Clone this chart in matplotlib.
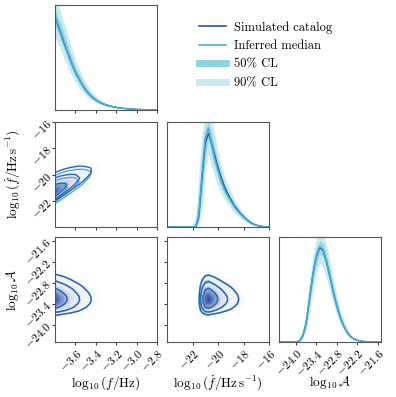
import numpy as np
import matplotlib
matplotlib.use('Agg')
import matplotlib.pyplot as plt
from matplotlib.colors import LinearSegmentedColormap
from matplotlib.lines import Line2D

plt.rcParams['font.family'] = 'serif'
plt.rcParams['font.serif'] = ['cmr10']
plt.rcParams['mathtext.fontset'] = 'cm'
plt.rcParams['axes.formatter.use_mathtext'] = True
plt.rcParams['axes.unicode_minus'] = True

# --- data (marginal densities, normalised to the panel height) ---
f_bins = [-3.80, -3.75, -3.70, -3.65, -3.60, -3.55, -3.50, -3.45, -3.40, -3.35, -3.30,
          -3.25, -3.20, -3.15, -3.10, -3.05, -3.00, -2.95, -2.90, -2.85, -2.80]
f_sim = [0.89, 0.75, 0.61, 0.48, 0.36, 0.27, 0.19, 0.135, 0.095, 0.068, 0.048,
         0.035, 0.025, 0.018, 0.013, 0.009, 0.006, 0.004, 0.002, 0.001, 0.0]
f_med = [0.90, 0.76, 0.62, 0.48, 0.36, 0.27, 0.19, 0.135, 0.095, 0.068, 0.048,
         0.035, 0.025, 0.018, 0.013, 0.009, 0.006, 0.004, 0.002, 0.001, 0.0]

fd_bins = [-24.0, -23.75, -23.5, -23.25, -23.0, -22.75, -22.5, -22.25, -22.0, -21.75,
           -21.5, -21.25, -21.0, -20.75, -20.5, -20.25, -20.0, -19.75, -19.5, -19.25,
           -19.0, -18.75, -18.5, -18.25, -18.0, -17.75, -17.5, -17.25, -17.0, -16.75,
           -16.5, -16.25, -16.0]
fd_sim = [0, 0, 0, 0, 0, 0, 0, 0, 0, 0,
          0.10, 0.47, 0.80, 0.89, 0.80, 0.68, 0.57, 0.47, 0.385, 0.32,
          0.265, 0.21, 0.17, 0.13, 0.10, 0.07, 0.047, 0.03, 0.018, 0.01,
          0.005, 0.002, 0.0]
fd_med = [0, 0, 0, 0, 0, 0, 0, 0, 0, 0,
          0.12, 0.52, 0.85, 0.94, 0.79, 0.65, 0.54, 0.44, 0.36, 0.30,
          0.25, 0.20, 0.16, 0.125, 0.095, 0.068, 0.045, 0.028, 0.017, 0.009,
          0.004, 0.002, 0.0]

A_bins = [-24.5, -24.4, -24.3, -24.2, -24.1, -24.0, -23.9, -23.8, -23.7, -23.6, -23.5,
          -23.4, -23.3, -23.2, -23.1, -23.0, -22.9, -22.8, -22.7, -22.6, -22.5,
          -22.4, -22.3, -22.2, -22.1, -22.0, -21.9, -21.8, -21.7, -21.6, -21.5]
A_sim = [0, 0, 0, 0, 0, 0, 0.01, 0.06, 0.18, 0.42, 0.65,
         0.82, 0.90, 0.87, 0.76, 0.62, 0.47, 0.34, 0.235, 0.155, 0.095,
         0.052, 0.03, 0.017, 0.009, 0.005, 0.002, 0, 0, 0, 0]
A_med = [0, 0, 0, 0, 0, 0, 0.01, 0.06, 0.18, 0.42, 0.66,
         0.83, 0.91, 0.88, 0.76, 0.62, 0.47, 0.34, 0.235, 0.155, 0.095,
         0.052, 0.03, 0.017, 0.009, 0.005, 0.002, 0, 0, 0, 0]

# fdot profile across the f-fdot ridge (offset from ridge, relative density)
ridge_off = [-1.0, -0.75, -0.5, -0.25, 0.0, 0.25, 0.5, 0.75, 1.0, 1.25, 1.5, 1.75, 2.0]
ridge_val = [0.0, 0.15, 0.6, 0.95, 1.0, 0.8, 0.6, 0.42, 0.28, 0.17, 0.09, 0.04, 0.0]
ridge_start = {'sim': -21.2, 'med': -21.4}   # ridge fdot at f = -3.8
ridge_slope = 4.5

limits = [(-3.8, -2.8), (-24.0, -16.0), (-24.5, -21.5)]
ticks = [[-3.6, -3.4, -3.2, -3.0, -2.8], [-22, -20, -18, -16],
         [-24.0, -23.4, -22.8, -22.2, -21.6]]
labels = [r'$\log_{10}(f/\mathrm{Hz})$', r'$\log_{10}(\dot{f}/\mathrm{Hz\,s^{-1}})$',
          r'$\log_{10}\mathcal{A}$']
jitter = [0.025, 0.2, 0.035]   # horizontal spread of the CL bands

c_sim = '#2f4e9f'
c_sim_ct = '#3561b3'
c_med = '#45afd2'
c_50 = '#8fd2e0'
c_90 = '#c8e9f0'
mass = [0.3, 0.6, 0.8]

bins = [np.array(f_bins), np.array(fd_bins), np.array(A_bins)]
sims = [np.array(f_sim), np.array(fd_sim), np.array(A_sim)]
meds = [np.array(f_med), np.array(fd_med), np.array(A_med)]

dens_cmap = LinearSegmentedColormap.from_list('dens', ['#ffffff', '#dfe5f3', '#2f4ea6'])


def envelope(x, y, dx, scale):
    shifted = [np.interp(x + d, x, y) for d in (-dx, 0.0, dx)]
    lo = np.min(shifted, axis=0) * (1 - scale)
    hi = np.max(shifted, axis=0) * (1 + scale)
    return lo, hi


def mass_levels(z, fracs):
    flat = np.sort(z.ravel())[::-1]
    cum = np.cumsum(flat)
    cum /= cum[-1]
    return sorted(set(flat[np.searchsorted(cum, q)] for q in fracs))


def density(i, j, which):
    # density for x = parameter j, y = parameter i
    src = sims if which == 'sim' else meds
    px, py = src[j], src[i]
    X, Y = np.meshgrid(bins[j], bins[i])
    if (i, j) == (1, 0):
        rel = Y - ridge_start[which] - ridge_slope * (X - bins[0][0])
        Z = np.interp(rel, ridge_off, ridge_val) * px[None, :]
    else:
        Z = np.outer(py, px)
    return X, Y, Z


fig = plt.figure(figsize=(3.96, 3.97), dpi=100)
lefts = [55 / 396, 167 / 396, 279 / 396]
bottoms = [(397 - 110) / 397, (397 - 227) / 397, (397 - 342) / 397]
w = 102 / 396
h = 105 / 397

for i in range(3):
    for j in range(i + 1):
        ax = fig.add_axes([lefts[j], bottoms[i], w, h])
        if i == j:
            x = bins[i]
            lo90, hi90 = envelope(x, meds[i], jitter[i], 0.15)
            lo50, hi50 = envelope(x, meds[i], jitter[i] * 0.5, 0.06)
            ax.fill_between(x, lo90, hi90, color=c_90, lw=0)
            ax.fill_between(x, lo50, hi50, color=c_50, lw=0, alpha=0.85)
            ax.plot(x, sims[i], color=c_sim, lw=1.0)
            ax.plot(x, meds[i], color=c_med, lw=1.0)
            ax.set_ylim(0, 1.0)
            ax.set_yticks([])
        else:
            X, Y, Z = density(i, j, 'sim')
            lev = mass_levels(Z, mass)
            shade = np.where(Z >= lev[0] * 0.6, Z, 0.0) / Z.max()
            ax.pcolormesh(X, Y, shade, cmap=dens_cmap, shading='gouraud',
                          vmin=0, vmax=1)
            Xm, Ym, Zm = density(i, j, 'med')
            ax.contour(Xm, Ym, Zm, levels=mass_levels(Zm, mass), colors=c_med,
                       linewidths=1.0)
            ax.contour(X, Y, Z, levels=lev, colors=c_sim_ct, linewidths=1.0)
            ax.set_ylim(*limits[i])
            ax.set_yticks(ticks[i])
        ax.set_xlim(*limits[j])
        ax.set_xticks(ticks[j])
        ax.tick_params(direction='out', length=2.5, width=0.7, labelsize=8.5,
                       colors='#333333', labelcolor='black', pad=1.5)
        for s in ax.spines.values():
            s.set_color('#555555')
            s.set_linewidth(0.8)
        if i == 2:
            ax.set_xlabel(labels[j], fontsize=9.5)
            ax.xaxis.set_label_coords(0.5, -0.39)
            ax.xaxis.label.set_va('center')
            for t in ax.get_xticklabels():
                t.set_rotation(45)
                t.set_ha('right')
                t.set_va('top')
                t.set_rotation_mode('anchor')
        else:
            ax.set_xticklabels([])
        if j == 0 and i > 0:
            ax.set_ylabel(labels[i], fontsize=9.5)
            ax.yaxis.set_label_coords(-0.42, 0.5)
            ax.yaxis.label.set_va('center')
            for t in ax.get_yticklabels():
                t.set_rotation(45)
                t.set_ha('right')
                t.set_va('center')
                t.set_rotation_mode('anchor')
        elif i != j:
            ax.set_yticklabels([])

handles = [Line2D([], [], color=c_sim, lw=1.2),
           Line2D([], [], color=c_med, lw=1.2),
           Line2D([], [], color=c_50, lw=5),
           Line2D([], [], color=c_90, lw=5)]
fig.legend(handles, ['Simulated catalog', 'Inferred median', '50% CL', '90% CL'],
           loc='upper left', bbox_to_anchor=(0.475, 0.975), frameon=False,
           fontsize=9, handlelength=2.1, handletextpad=0.7, labelspacing=0.5)

fig.savefig('out.png', dpi=100)
